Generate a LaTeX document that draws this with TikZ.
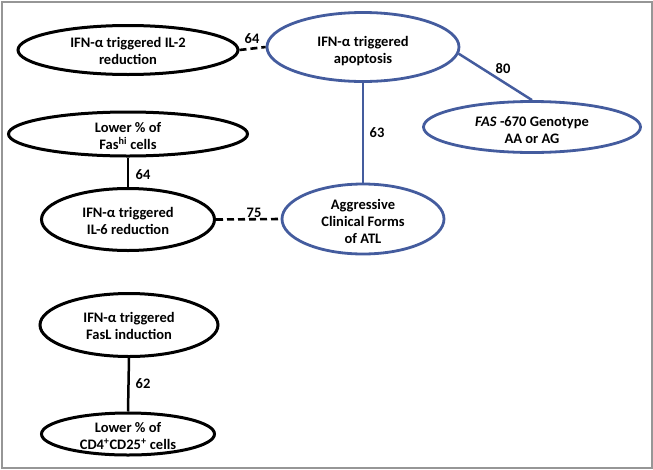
\documentclass[tikz,border=0pt]{standalone}
\usepackage{fontspec}
\setmainfont{Carlito}
\usetikzlibrary{shapes.geometric}
\definecolor{nodeblue}{RGB}{68,92,158}
\definecolor{framegray}{RGB}{150,150,150}
\tikzset{
  ellblack/.style={ellipse, draw=black, line width=3pt, inner sep=0pt},
  ellblue/.style={ellipse, draw=nodeblue, line width=2.8pt, inner sep=0pt},
  txt/.style={align=center, font=\fontsize{14.5}{17}\selectfont\bfseries, inner sep=0pt},
  lab/.style={font=\fontsize{14.5}{17}\selectfont\bfseries, inner sep=0pt},
  conblack/.style={draw=black, line width=2.5pt},
  conblue/.style={draw=nodeblue, line width=2.5pt},
  dashline/.style={draw=black, line width=2.6pt, dash pattern=on 7pt off 4pt},
}
\begin{document}
\begin{tikzpicture}[x=1pt,y=-1pt]
\useasboundingbox (0,0) rectangle (653,469);
\draw[framegray, line width=2pt] (1.5,1.5) rectangle (651.5,467.5);

% ellipses
\node[ellblack, minimum width=220pt, minimum height=49pt] (il2) at (128,50) {};
\node[ellblue, minimum width=192pt, minimum height=69pt] (apop) at (363,47) {};
\node[ellblue, minimum width=217pt, minimum height=51pt] (fas) at (532,127) {};
\node[ellblack, minimum width=239pt, minimum height=44pt] (fashi) at (128,134) {};
\node[ellblack, minimum width=173pt, minimum height=62pt] (il6) at (128,219.5) {};
\node[ellblue, minimum width=162pt, minimum height=70pt] (atl) at (363,219) {};
\node[ellblack, minimum width=178pt, minimum height=63pt] (fasl) at (129,325) {};
\node[ellblack, minimum width=173pt, minimum height=42pt] (cd4) at (128,434) {};

% texts
\node[txt] (t-il2) at (128,51) {IFN-α triggered IL-2\\reduction};
\node[txt] (t-apop) at (363,51) {IFN-α triggered\\apoptosis};
\node[txt] (t-fas) at (532,130) {\textit{FAS} -670 Genotype\\AA or AG};
\node[txt] (t-fashi) at (128,136) {Lower \% of\\Fas\textsuperscript{hi} cells};
\node[txt] (t-il6) at (128,221) {IFN-α triggered\\IL-6 reduction};
\node[txt] (t-atl) at (363,221) {Aggressive\\Clinical Forms\\of ATL};
\node[txt] (t-fasl) at (129,326) {IFN-α triggered\\FasL induction};
\node[txt] (t-cd4) at (128,436) {Lower \% of\\CD4\textsuperscript{+}CD25\textsuperscript{+} cells};

% connectors
\draw[dashline] (il2.east) -- (apop.west);
\draw[conblue] (apop.-4) -- (fas.north);
\draw[conblue] (apop.south) -- (atl.north);
\draw[conblack] (fashi.south) -- (il6.north);
\draw[dashline] (il6.east) -- (atl.west);
\draw[conblack] (fasl.south) -- (cd4.north);

% labels
\node[lab] (l1) at (252,39) {64};
\node[lab] (l2) at (503,69) {80};
\node[lab] (l3) at (377,133) {63};
\node[lab] (l4) at (143,175) {64};
\node[lab] (l5) at (254,213) {75};
\node[lab] (l6) at (143,384) {62};
\end{tikzpicture}
\end{document}
